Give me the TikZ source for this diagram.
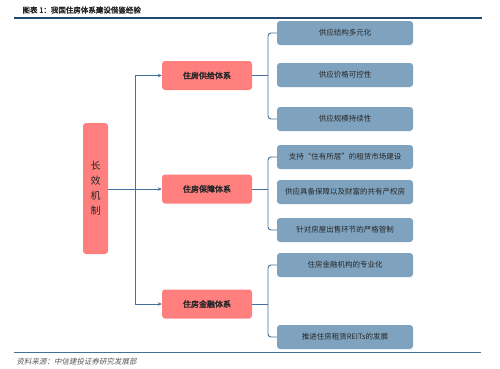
\documentclass[tikz,border=0pt]{standalone}
\usepackage{fontspec}
\setmainfont{Noto Sans CJK SC}[AutoFakeBold=2.5]
\newfontfamily\cjkit{Noto Sans CJK SC}[FakeSlant=0.2]
\usepackage{tikz}
\usetikzlibrary{positioning,arrows.meta,calc}
\usepackage{xcolor}
\definecolor{boxpink}{HTML}{FF7F7F}
\definecolor{boxblue}{HTML}{7FA3BF}
\definecolor{linkblue}{HTML}{41719C}
\definecolor{rulenavy}{HTML}{1F4A6E}
\definecolor{textdark}{HTML}{262626}
\definecolor{textgrey}{HTML}{595959}

\begin{document}
\begin{tikzpicture}[x=1pt,y=-1pt,
    mainbox/.style={fill=boxpink,rounded corners=3pt,minimum width=90pt,minimum height=29pt,
      font=\fontsize{8}{9}\selectfont\bfseries,text=textdark},
    subbox/.style={fill=boxblue,rounded corners=3pt,minimum width=136pt,minimum height=24pt,
      font=\fontsize{7.5}{9}\selectfont,text=textdark},
    link/.style={draw=linkblue,line width=0.9pt},
    tip/.style={-{Stealth[length=4pt,width=3.5pt]}}]
  \useasboundingbox (0,0) rectangle (500,368);
  % Titulo
  \node[anchor=west,font=\fontsize{7.5}{9}\selectfont\bfseries,text=textdark] (titulo) at (19,10)
    {图表 1：我国住房体系建设借鉴经验};
  \draw[rulenavy,line width=2pt] (14,18) -- (482,18);
  % Raiz
  \node[fill=boxpink,rounded corners=3pt,minimum width=25pt,minimum height=131pt,align=center,
    font=\fontsize{10}{15}\selectfont,text=textdark] (raiz) at (95.5,188.5) {长\\效\\机\\制};
  % Sistemas
  \node[mainbox] (m1) at (207,75.5) {住房供给体系};
  \node[mainbox] (m2) at (207,189) {住房保障体系};
  \node[mainbox] (m3) at (207,304) {住房金融体系};
  % Medidas
  \foreach \i/\y/\t in {
    1/33/供应结构多元化, 2/75/供应价格可控性, 3/119/供应规模持续性,
    4/157/支持“住有所居”的租赁市场建设, 5/192/供应具备保障以及财富的共有产权房,
    6/230/针对房屋出售环节的严格管制, 7/265/住房金融机构的专业化,
    8/337/推进住房租赁REITs的发展}{
    \node[subbox] (s\i) at (345,\y) {\t};}
  % Tronco
  \coordinate (tronco) at (135,189);
  \draw[link,tip] (raiz.east |- tronco) -- (m2.west);
  \draw[link,tip] (tronco) |- (m1.west);
  \draw[link,tip] (tronco) |- (m3.west);
  % Llaves
  \coordinate (k1) at (268,75.5);
  \coordinate (k2) at (268,189);
  \coordinate (k3) at (268,304);
  \draw[link] (m1.east) -- (k1);
  \draw[link] (m2.east) -- (k2);
  \draw[link] (m3.east) -- (k3);
  \draw[link,rounded corners=3pt] (s1.west) -| (k1) |- (s3.west);
  \draw[link,rounded corners=3pt] (s4.west) -| (k2) |- (s6.west);
  \draw[link,rounded corners=3pt] (s7.west) -| (k3) |- (s8.west);
  % Fuente
  \draw[linkblue,line width=1pt] (14,352) -- (481,352);
  \node[anchor=west,font=\fontsize{7.5}{9}\selectfont\cjkit,text=textgrey] (fuente) at (13,361.5)
    {资料来源：中信建投证券研究发展部};
\end{tikzpicture}
\end{document}
